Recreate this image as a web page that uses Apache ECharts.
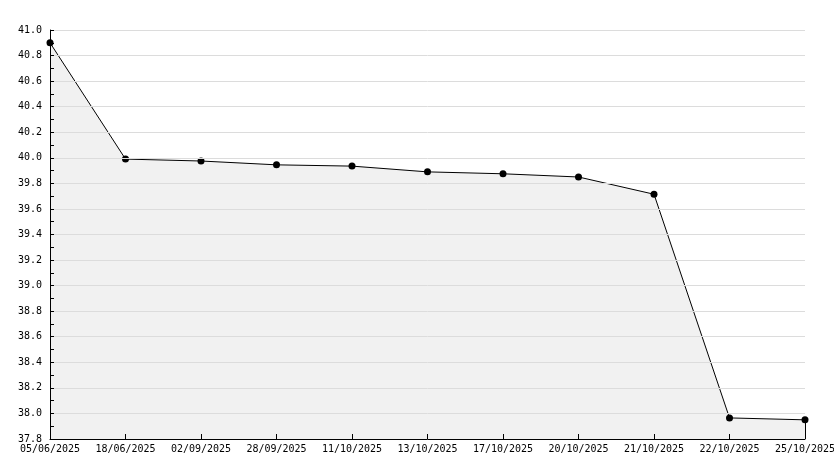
<!DOCTYPE html>
<html><head><meta charset="utf-8">
<script src="https://cdn.jsdelivr.net/npm/echarts@6/dist/echarts.min.js"></script>
<style>html,body{margin:0;padding:0;background:#fff}#c{width:834px;height:468px}</style>
</head><body><div id="c"></div>
<script>
const categories = ["05/06/2025","18/06/2025","02/09/2025","28/09/2025","11/10/2025","13/10/2025","17/10/2025","20/10/2025","21/10/2025","22/10/2025","25/10/2025"];
const values = [40.90, 39.99, 39.975, 39.945, 39.935, 39.89, 39.875, 39.85, 39.715, 37.965, 37.95];
const yMin = 37.8, yMax = 41.0, yStep = 0.2;

const chart = echarts.init(document.getElementById('c'));
const font = '"DejaVu Sans Mono", monospace';
const lastIdx = categories.length - 1;
chart.setOption({
  animation: false,
  grid: {left: 50, right: 29, top: 30, bottom: 29, outerBoundsMode: 'none', containLabel: false},
  xAxis: {
    type: 'category', data: categories, boundaryGap: false, z: 5,
    axisLine: {lineStyle: {color: '#000', width: 1}},
    axisTick: {inside: true, length: 5, lineStyle: {color: '#000'}},
    axisLabel: {color: '#000', fontFamily: font, fontSize: 10, margin: 5, interval: 0},
    splitLine: {show: false}
  },
  yAxis: {
    type: 'value', min: yMin, max: yMax, interval: yStep, z: 5,
    axisLine: {show: true, lineStyle: {color: '#000', width: 1}},
    axisTick: {show: true, inside: true, length: 4, lineStyle: {color: '#000'}},
    minorTick: {show: true, splitNumber: 2, length: 4, lineStyle: {color: '#000'}},
    axisLabel: {color: '#000', fontFamily: font, fontSize: 10, margin: 8, formatter: v => v.toFixed(1)},
    splitLine: {show: true, lineStyle: {color: '#dcdcdc', width: 1}}
  },
  series: [{
    type: 'line', data: values,
    symbol: 'circle', symbolSize: 7,
    itemStyle: {color: '#000'},
    lineStyle: {color: '#000', width: 1},
    areaStyle: {color: '#f1f1f1', opacity: 1, origin: 'start'},
    markLine: {
      silent: true, symbol: 'none', label: {show: false},
      lineStyle: {color: '#000', width: 1, type: 'solid'},
      data: [[{coord: [lastIdx, values[lastIdx]]}, {coord: [lastIdx, yMin]}]]
    }
  }]
});
</script></body></html>
